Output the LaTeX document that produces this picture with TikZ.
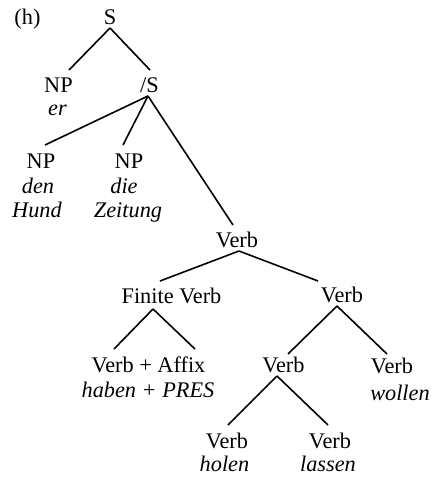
\documentclass[tikz,border=0pt]{standalone}
\usepackage{fontspec}
\setmainfont{Liberation Serif}
\usetikzlibrary{calc}
\begin{document}
\begin{tikzpicture}[x=1pt,y=-1pt,
  lbl/.style={anchor=base,inner sep=0pt,font=\fontsize{22.3}{24}\selectfont},
  itl/.style={anchor=base,inner sep=0pt,font=\fontsize{22.3}{24}\selectfont\itshape},
  edge/.style={line width=1.6pt}]
\useasboundingbox (0,0) rectangle (433,477);
% labels
\node[lbl] (h) at (27.5,24) {(h)};
\node[lbl] (S) at (110,24) {S};
\node[lbl] (NPer) at (58.5,92) {NP};
\node[itl] (er) at (57.5,115) {er};
\node[lbl] (sS) at (149.5,92) {/S};
\node[lbl] (NPden) at (41,168) {NP};
\node[itl] (den) at (38,193) {den};
\node[itl] (Hund) at (37,217) {Hund};
\node[lbl] (NPdie) at (129,168) {NP};
\node[itl] (die) at (124,193) {die};
\node[itl] (Zeitung) at (128,217) {Zeitung};
\node[lbl] (Vtop) at (237,247) {Verb};
\node[lbl] (FV) at (171.5,303) {Finite Verb};
\node[lbl] (Vmid) at (342,302) {Verb};
\node[lbl] (VA) at (148.5,372) {Verb + Affix};
\node[itl] (hp) at (148,397) {haben + PRES};
\node[lbl] (Vlow) at (283.5,372) {Verb};
\node[lbl] (Vw) at (392,373) {Verb};
\node[itl] (wollen) at (400,400) {wollen};
\node[lbl] (Vh) at (227,448) {Verb};
\node[itl] (holen) at (224.5,471) {holen};
\node[lbl] (Vl) at (330,448) {Verb};
\node[itl] (lassen) at (328,471) {lassen};
% connectors
\draw[edge] ($(S.base)+(0,4)$) -- ($(NPer.base)+(10.5,-22)$);
\draw[edge] ($(S.base)+(0,4)$) -- ($(sS.base)+(0.5,-22)$);
\draw[edge] ($(sS.base)+(-1.5,4)$) -- ($(NPden.base)+(4,-23)$);
\draw[edge] ($(sS.base)+(-1.5,4)$) -- ($(NPdie.base)+(-6,-23)$);
\draw[edge] ($(sS.base)+(-1.5,4)$) -- ($(Vtop.base)+(-4,-22)$);
\draw[edge] ($(Vtop.base)+(2,4)$) -- ($(FV.base)+(-11.5,-22)$);
\draw[edge] ($(Vtop.base)+(2,4)$) -- ($(Vmid.base)+(-24,-21)$);
\draw[edge] ($(FV.base)+(-18.5,6)$) -- ($(VA.base)+(-34.5,-23)$);
\draw[edge] ($(FV.base)+(-18.5,6)$) -- ($(VA.base)+(46.5,-23)$);
\draw[edge] ($(Vmid.base)+(-5,4)$) -- ($(Vlow.base)+(4.5,-18)$);
\draw[edge] ($(Vmid.base)+(-5,4)$) -- ($(Vw.base)+(-5,-19)$);
\draw[edge] ($(Vlow.base)+(-6.5,4)$) -- ($(Vh.base)+(1,-23)$);
\draw[edge] ($(Vlow.base)+(-6.5,4)$) -- ($(Vl.base)+(-2,-23)$);
\end{tikzpicture}
\end{document}
